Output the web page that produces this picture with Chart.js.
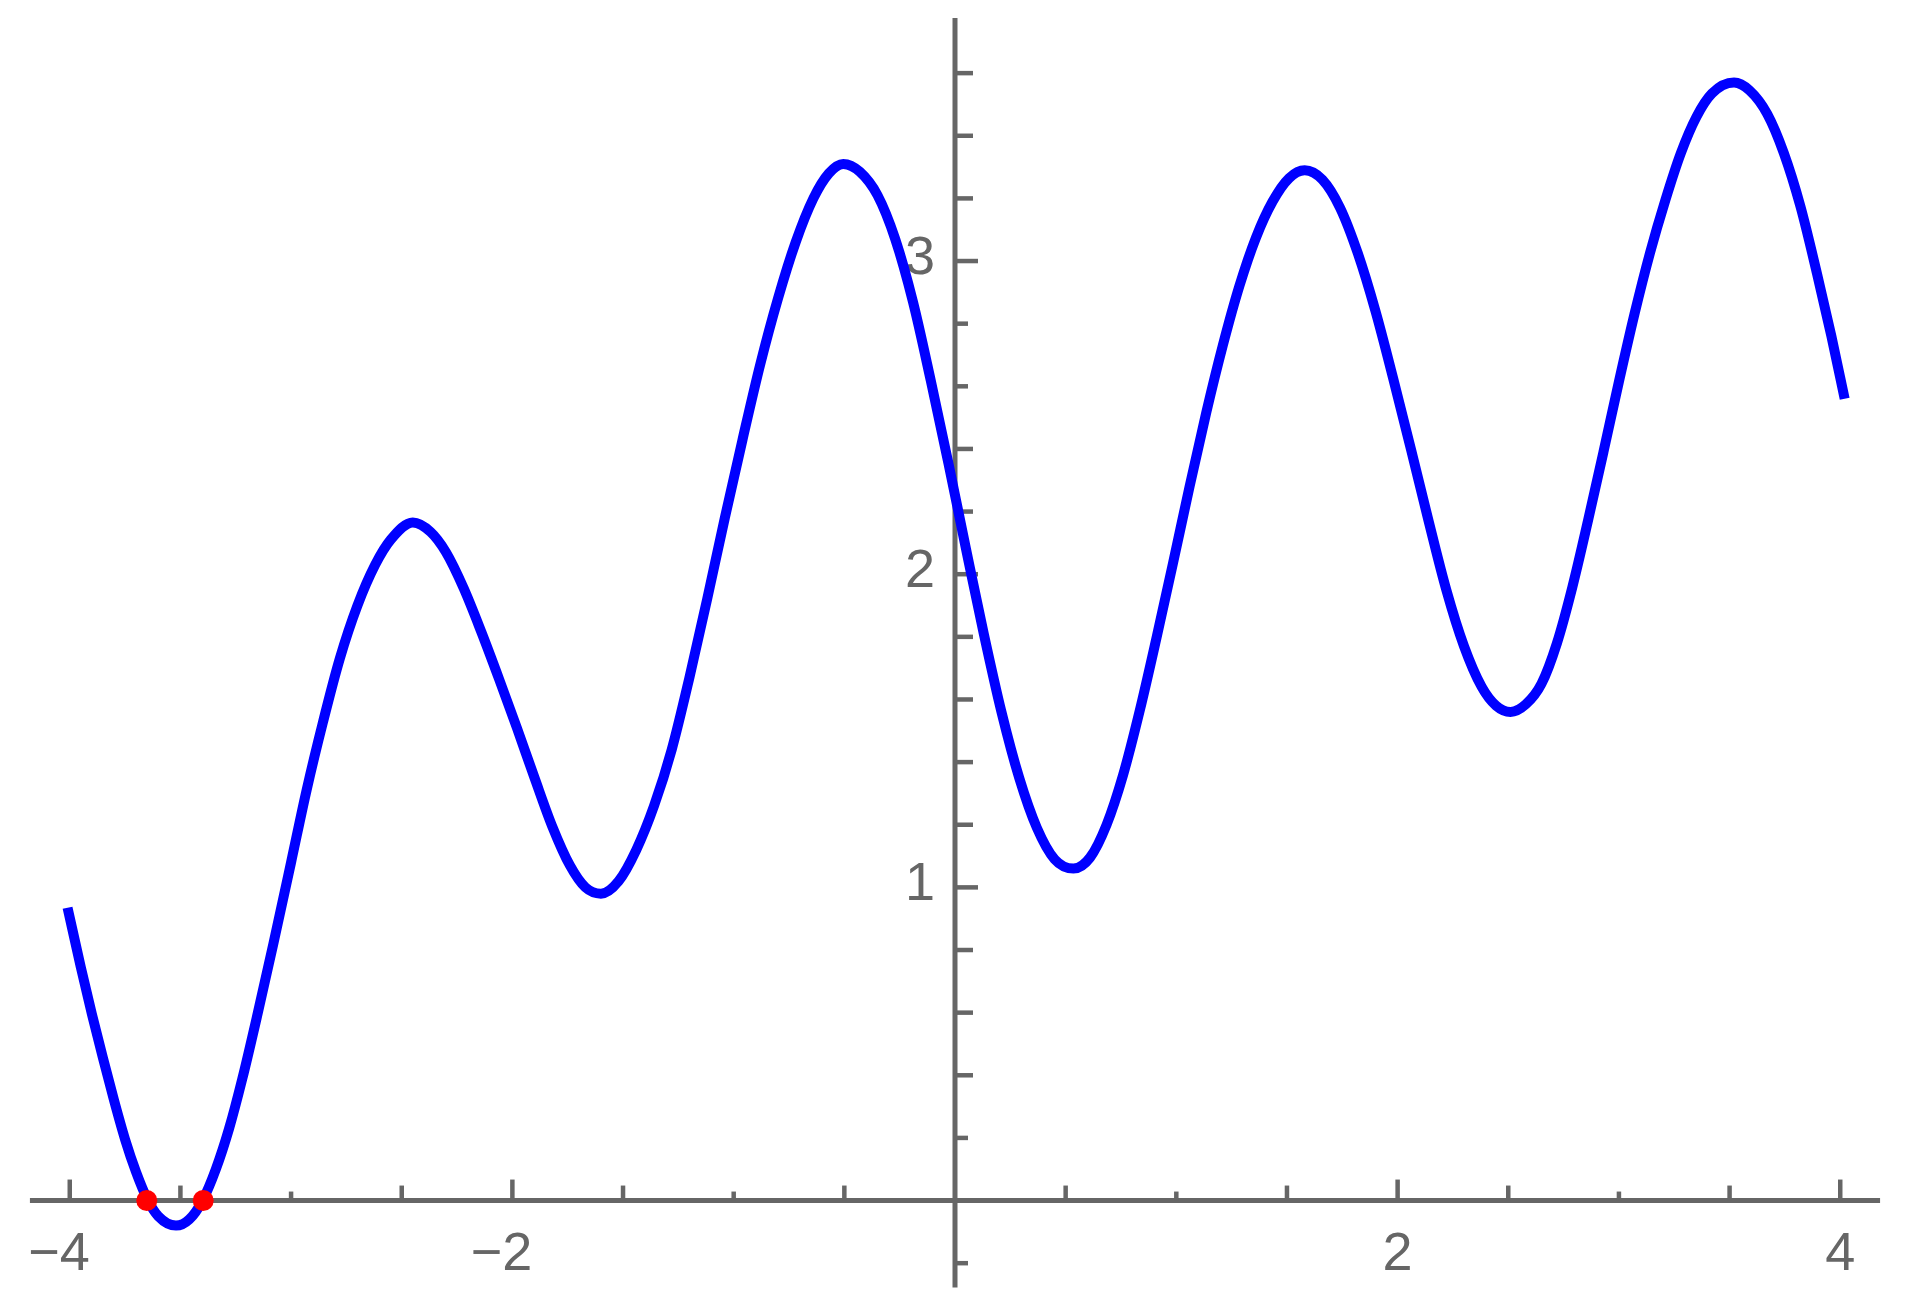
<!DOCTYPE html>
<html>
<head>
<meta charset="utf-8">
<script src="https://cdn.jsdelivr.net/npm/chart.js@4.4.1/dist/chart.umd.min.js"></script>
<style>
    html, body { margin: 0; padding: 0; background: #ffffff; }
    #wrap { width: 1916px; height: 1306px; position: relative; }
</style>
</head>
<body>
<div id="wrap"><canvas id="plot"></canvas></div>
<script>
// curve (x, y)
const curveX = [
    -4.01, -3.95, -3.90, -3.85, -3.80, -3.75, -3.70, -3.65, -3.60, -3.52,
    -3.46, -3.40, -3.34, -3.28, -3.22, -3.15, -3.08, -3.00, -2.93, -2.855,
    -2.78, -2.70, -2.62, -2.55, -2.45, -2.37, -2.30, -2.22, -2.14, -2.06,
    -1.98, -1.90, -1.82, -1.74, -1.67, -1.60, -1.52, -1.44, -1.36, -1.28,
    -1.20, -1.12, -1.04, -0.96, -0.88, -0.80, -0.72, -0.64, -0.57, -0.505,
    -0.43, -0.35, -0.27, -0.19, -0.11, -0.03, 0.05, 0.13, 0.21, 0.29,
    0.37, 0.45, 0.535, 0.61, 0.685, 0.76, 0.835, 0.91, 0.985, 1.06,
    1.135, 1.21, 1.285, 1.36, 1.435, 1.51, 1.58, 1.66, 1.74, 1.82,
    1.90, 1.98, 2.06, 2.14, 2.22, 2.30, 2.38, 2.445, 2.51, 2.58,
    2.65, 2.72, 2.79, 2.86, 2.93, 3.00, 3.07, 3.14, 3.21, 3.28,
    3.35, 3.42, 3.52, 3.59, 3.67, 3.745, 3.82, 3.895, 3.96, 4.02
];
const curveY = [
    0.935, 0.745, 0.595, 0.455, 0.32, 0.195, 0.09, 0.005, -0.05, -0.08,
    -0.06, 0.00, 0.10, 0.23, 0.39, 0.60, 0.82, 1.08, 1.31, 1.53,
    1.73, 1.90, 2.03, 2.11, 2.165, 2.135, 2.07, 1.955, 1.815, 1.665,
    1.51, 1.35, 1.195, 1.07, 1.00, 0.98, 1.02, 1.12, 1.26, 1.44,
    1.67, 1.92, 2.18, 2.43, 2.67, 2.88, 3.06, 3.20, 3.28, 3.31,
    3.285, 3.21, 3.07, 2.87, 2.62, 2.355, 2.08, 1.81, 1.56, 1.35,
    1.19, 1.09, 1.06, 1.095, 1.20, 1.36, 1.565, 1.795, 2.035, 2.28,
    2.515, 2.73, 2.92, 3.075, 3.19, 3.265, 3.29, 3.26, 3.17, 3.025,
    2.84, 2.625, 2.40, 2.17, 1.95, 1.77, 1.64, 1.58, 1.56, 1.585,
    1.65, 1.78, 1.96, 2.17, 2.39, 2.615, 2.83, 3.025, 3.195, 3.345,
    3.46, 3.535, 3.57, 3.545, 3.47, 3.345, 3.175, 2.96, 2.76, 2.56
];

// the two marked roots
const rootX = [-3.652, -3.397];
const rootY = [0, 0];

// axis ticks and labels
const xLabelTicks = [-4, -2, 2, 4];
const xTickLabels = ['\u22124', '\u22122', '2', '4'];
const xHalfTicks = [-3.5, -2.5, -1.5, -0.5, 0.5, 1.5, 2.5, 3.5];
const xOddTicks = [-3, -1, 1, 3];
const yLabelTicks = [1, 2, 3];
const yTickLabels = ['1', '2', '3'];
const yMinorTicks = [0.4, 0.6, 0.8, 1.2, 1.4, 1.6, 1.8, 2.2, 2.4, 3.2, 3.4, 3.6];
const yShortTicks = [-0.2, 0.2, 2.6, 2.8];
const xAxisEnds = [-4.18, 4.18];
const yAxisEnds = [-0.278, 3.776];

const axisColor = '#666666';

const crossAxes = {
    id: 'crossAxes',
    beforeDatasetsDraw(chart) {
        const { ctx, scales: { x, y } } = chart;
        const x0 = x.getPixelForValue(0);
        const y0 = y.getPixelForValue(0);

        ctx.save();
        ctx.strokeStyle = axisColor;
        ctx.lineCap = 'butt';

        // axis lines
        ctx.lineWidth = 5;
        ctx.beginPath();
        ctx.moveTo(x.getPixelForValue(xAxisEnds[0]), y0);
        ctx.lineTo(x.getPixelForValue(xAxisEnds[1]), y0);
        ctx.moveTo(x0, y.getPixelForValue(yAxisEnds[0]));
        ctx.lineTo(x0, y.getPixelForValue(yAxisEnds[1]));
        ctx.stroke();

        // tick marks, pointing inward
        ctx.lineWidth = 4.5;
        const xTick = (vals, len) => vals.forEach(v => {
            const px = x.getPixelForValue(v);
            ctx.beginPath();
            ctx.moveTo(px, y0);
            ctx.lineTo(px, y0 - len);
            ctx.stroke();
        });
        const yTick = (vals, len) => vals.forEach(v => {
            const py = y.getPixelForValue(v);
            ctx.beginPath();
            ctx.moveTo(x0, py);
            ctx.lineTo(x0 + len, py);
            ctx.stroke();
        });
        xTick(xLabelTicks, 21);
        xTick(xHalfTicks, 15);
        xTick(xOddTicks, 9);
        yTick(yLabelTicks, 23);
        yTick(yMinorTicks, 18);
        yTick(yShortTicks, 13);

        // tick labels
        ctx.fillStyle = axisColor;
        ctx.font = '54px "Liberation Sans", Arial, sans-serif';
        ctx.textBaseline = 'alphabetic';
        xLabelTicks.forEach((v, i) => {
            const px = x.getPixelForValue(v);
            if (v < 0) {
                ctx.textAlign = 'right';
                ctx.fillText(xTickLabels[i], px + 20, y0 + 69);
            } else {
                ctx.textAlign = 'center';
                ctx.fillText(xTickLabels[i], px, y0 + 69);
            }
        });
        ctx.textAlign = 'right';
        yLabelTicks.forEach((v, i) => {
            ctx.fillText(yTickLabels[i], x0 - 20, y.getPixelForValue(v) + 13);
        });
        ctx.restore();
    }
};

new Chart(document.getElementById('plot'), {
    type: 'scatter',
    data: {
        datasets: [
            {
                label: 'roots',
                data: rootX.map((v, i) => ({ x: v, y: rootY[i] })),
                backgroundColor: '#ff0000',
                borderColor: '#ff0000',
                pointRadius: 10.5,
                pointBorderWidth: 0,
                showLine: false,
                order: 0
            },
            {
                label: 'f',
                data: curveX.map((v, i) => ({ x: v, y: curveY[i] })),
                borderColor: '#0000ff',
                borderWidth: 10,
                pointRadius: 0,
                showLine: true,
                cubicInterpolationMode: 'monotone',
                borderJoinStyle: 'round',
                order: 1
            }
        ]
    },
    options: {
        responsive: true,
        maintainAspectRatio: false,
        animation: false,
        events: [],
        layout: {
            padding: { left: 25.5, right: 31.5, top: 9.2, bottom: 11.5 }
        },
        plugins: {
            legend: { display: false },
            tooltip: { enabled: false }
        },
        scales: {
            x: { type: 'linear', min: -4.2, max: 4.2, display: false },
            y: { type: 'linear', min: -0.3, max: 3.8, display: false }
        }
    },
    plugins: [crossAxes]
});
</script>
</body>
</html>
